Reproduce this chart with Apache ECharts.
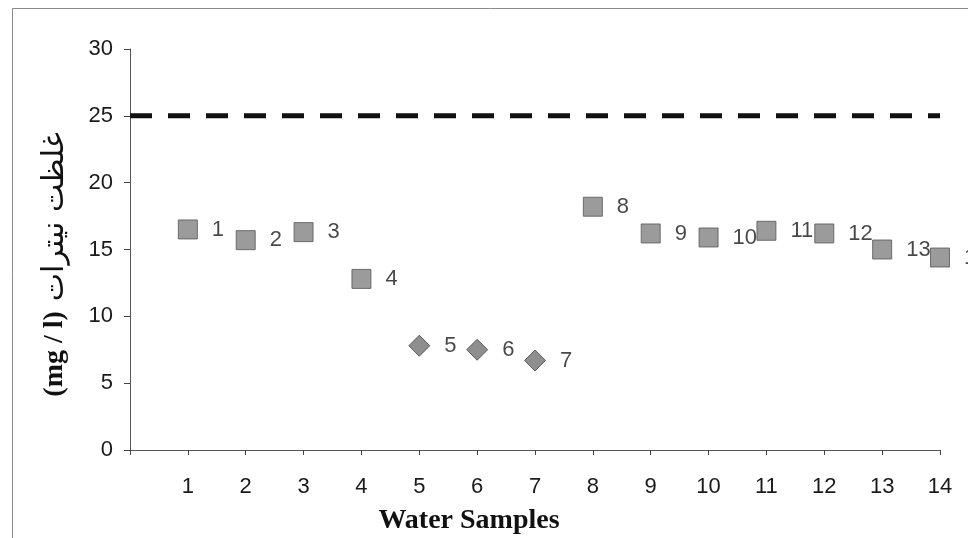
<!DOCTYPE html>
<html>
<head>
<meta charset="utf-8">
<script src="https://cdn.jsdelivr.net/npm/echarts@6/dist/echarts.min.js"></script>
<style>
  html, body { margin: 0; padding: 0; background: #fff; }
  #chart { width: 968px; height: 538px; }
</style>
</head>
<body>
<div id="chart"></div>
<script>
// Water sample numbers and their measured nitrate concentration (mg/l)
const sampleIds = [1, 2, 3, 4, 5, 6, 7, 8, 9, 10, 11, 12, 13, 14];
const nitrate = [16.5, 15.7, 16.3, 12.8, 7.8, 7.5, 6.7, 18.2, 16.2, 15.9, 16.4, 16.2, 15.0, 14.4];
// Samples drawn with the diamond marker; all others use squares
const diamondSamples = [5, 6, 7];
// Permitted nitrate limit and the x-range the limit line spans
const limitValue = 25;
const limitRange = [0, 14];
const yTicks = [0, 5, 10, 15, 20, 25, 30];

const squarePts = [];
const diamondPts = [];
sampleIds.forEach((id, i) => {
  const pt = [id, nitrate[i]];
  (diamondSamples.includes(id) ? diamondPts : squarePts).push(pt);
});

const sansFont = 'Liberation Sans, Arial, sans-serif';
const serifFont = 'Liberation Serif, Times New Roman, serif';

const labelStyle = {
  show: true,
  position: 'right',
  distance: 14,
  formatter: p => String(p.value[0]),
  fontFamily: sansFont,
  fontSize: 22,
  color: '#1a1a1a'
};

const chart = echarts.init(document.getElementById('chart'), null, { renderer: 'canvas' });
chart.setOption({
  animation: false,
  backgroundColor: '#ffffff',
  grid: {
    left: 130, right: 28, top: 49, bottom: 88,
    containLabel: false,
    outerBoundsMode: 'none'
  },
  xAxis: {
    type: 'value',
    min: 0,
    max: 14,
    interval: 1,
    name: 'Water Samples',
    nameLocation: 'middle',
    nameGap: 57,
    nameTextStyle: {
      fontFamily: serifFont,
      fontWeight: 'bold',
      fontSize: 28,
      color: '#111',
      padding: [0, 132, 0, 0]
    },
    splitLine: { show: false },
    axisLine: { show: true, onZero: false, lineStyle: { color: '#555', width: 1 } },
    axisTick: { show: true, length: 5, lineStyle: { color: '#444' } },
    axisLabel: {
      margin: 26,
      fontFamily: sansFont,
      fontSize: 22,
      color: '#1a1a1a',
      formatter: v => (v === 0 ? '' : String(v))
    }
  },
  yAxis: {
    type: 'value',
    min: 0,
    max: 30,
    interval: 5,
    name: '{a|(mg / l)}   {b|غلظت نیترات}',
    nameLocation: 'middle',
    nameRotate: 90,
    nameGap: 60,
    nameTextStyle: {
      padding: [0, 30, 0, 0],
      rich: {
        a: {
          fontFamily: serifFont,
          fontWeight: 'bold',
          fontSize: 28,
          color: '#111'
        },
        b: {
          fontFamily: 'DejaVu Sans, Noto Sans, sans-serif',
          fontSize: 30,
          color: '#111'
        }
      }
    },
    splitLine: { show: false },
    axisLine: { show: true, lineStyle: { color: '#555', width: 1 } },
    axisTick: { show: true, length: 6, lineStyle: { color: '#444' } },
    axisLabel: {
      margin: 17,
      fontFamily: sansFont,
      fontSize: 22,
      color: '#1a1a1a',
      formatter: v => (yTicks.includes(v) ? String(v) : '')
    }
  },
  graphic: [
    {
      type: 'rect',
      silent: true,
      shape: { x: 12.5, y: 8.5, width: 1000, height: 600 },
      style: { fill: 'none', stroke: '#8a8a8a', lineWidth: 1 }
    }
  ],
  series: [
    {
      name: 'limit',
      type: 'line',
      data: limitRange.map(x => [x, limitValue]),
      symbol: 'none',
      clip: false,
      silent: true,
      lineStyle: { color: '#111', width: 5, type: [22, 16] },
      z: 1
    },
    {
      name: 'square samples',
      type: 'scatter',
      symbol: 'rect',
      symbolSize: 19,
      data: squarePts,
      itemStyle: { color: '#828282', borderColor: '#555555', borderWidth: 1 },
      label: labelStyle,
      z: 3
    },
    {
      name: 'diamond samples',
      type: 'scatter',
      symbol: 'diamond',
      symbolSize: 21,
      data: diamondPts,
      itemStyle: { color: '#727272', borderColor: '#444444', borderWidth: 1 },
      label: labelStyle,
      z: 3
    }
  ]
});
</script>
</body>
</html>
